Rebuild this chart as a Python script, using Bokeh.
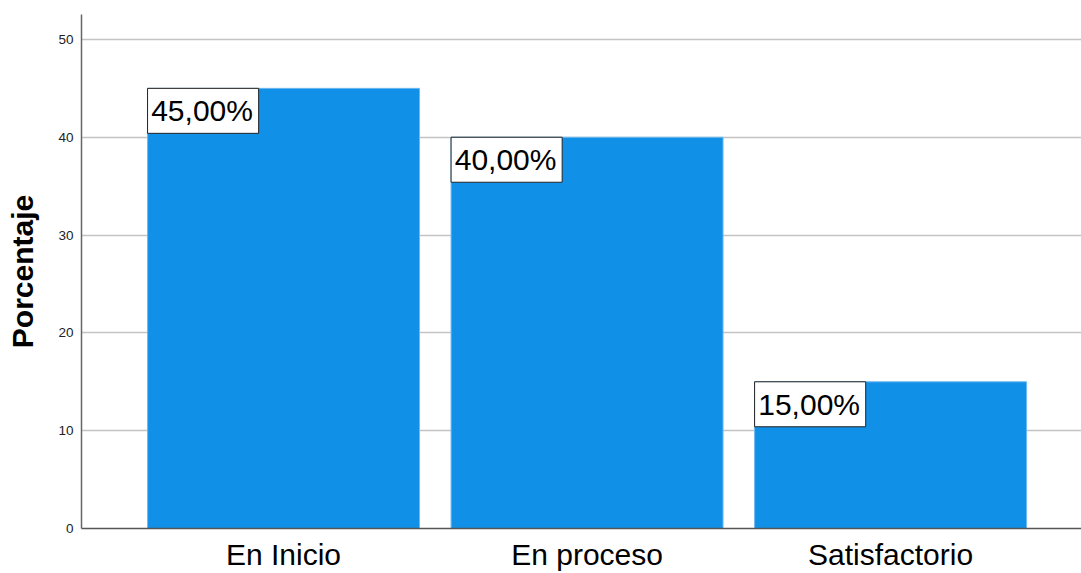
from bokeh.plotting import figure
from bokeh.models import FixedTicker, ColumnDataSource, Range1d
from bokeh.core.properties import value
from bokeh.embed import file_html
from bokeh.resources import INLINE

categories = ["En Inicio", "En proceso", "Satisfactorio"]
percentages = [45.0, 40.0, 15.0]
label_texts = ["45,00%", "40,00%", "15,00%"]
y_ticks = [0, 10, 20, 30, 40, 50]

BAR_W = 0.896
BOX_W = 0.366
BOX_H = 4.6
PAD_X = 0.012

xs = list(range(len(categories)))
lefts = [x - BAR_W / 2 for x in xs]
src = ColumnDataSource(dict(
    x=xs, top=percentages,
    bl=lefts, br=[l + BOX_W for l in lefts],
    bt=percentages, bb=[v - BOX_H for v in percentages],
    tx=[l + PAD_X for l in lefts], ty=[v - BOX_H / 2 for v in percentages],
    txt=label_texts,
))

p = figure(width=1081, height=573, output_backend="svg", toolbar_location=None,
           x_range=Range1d(-0.6656, 2.629), y_range=Range1d(0, 52.55),
           min_border_left=81, min_border_right=0, min_border_top=14, min_border_bottom=45)
p.outline_line_color = None
p.background_fill_color = "white"

p.vbar(x="x", top="top", width=BAR_W, bottom=0, source=src,
       fill_color="#1190E8", line_color="#6db8f0", line_width=1)
p.quad(left="bl", right="br", top="bt", bottom="bb", source=src,
       fill_color="white", line_color="#222222", line_width=1)
p.text(x="tx", y="ty", text="txt", source=src, text_font=value("Liberation Sans"),
       text_font_size="30px", text_baseline="middle", text_align="left", text_color="black")

p.xgrid.grid_line_color = None
p.ygrid.grid_line_color = "#c4c4c4"
p.ygrid.grid_line_width = 1.5
p.ygrid.ticker = FixedTicker(ticks=y_ticks)

p.yaxis.ticker = FixedTicker(ticks=y_ticks)
p.yaxis.axis_label = "Porcentaje"
p.yaxis.axis_label_text_font = "Liberation Sans"
p.yaxis.axis_label_text_font_style = "bold"
p.yaxis.axis_label_text_font_size = "30px"
p.yaxis.axis_label_text_color = "black"
p.yaxis.axis_label_standoff = 16
p.yaxis.major_label_text_font = "Liberation Sans"
p.yaxis.major_label_text_font_size = "13.5px"
p.yaxis.major_label_text_color = "#222222"
p.yaxis.major_label_standoff = 8
p.yaxis.major_tick_line_color = None
p.yaxis.major_tick_out = 0
p.yaxis.major_tick_in = 0
p.yaxis.minor_tick_line_color = None
p.yaxis.minor_tick_out = 0
p.yaxis.axis_line_color = "#666666"
p.yaxis.axis_line_width = 1.5

p.xaxis.ticker = FixedTicker(ticks=xs)
p.xaxis.major_label_overrides = {i: c for i, c in enumerate(categories)}
p.xaxis.major_label_text_font = "Liberation Sans"
p.xaxis.major_label_text_font_size = "30px"
p.xaxis.major_label_text_color = "black"
p.xaxis.major_label_standoff = 9
p.xaxis.major_tick_line_color = None
p.xaxis.major_tick_out = 0
p.xaxis.major_tick_in = 0
p.xaxis.minor_tick_line_color = None
p.xaxis.minor_tick_out = 0
p.xaxis.axis_line_color = "#555555"
p.xaxis.axis_line_width = 1.5

open("out.html", "w").write(file_html(p, INLINE))
